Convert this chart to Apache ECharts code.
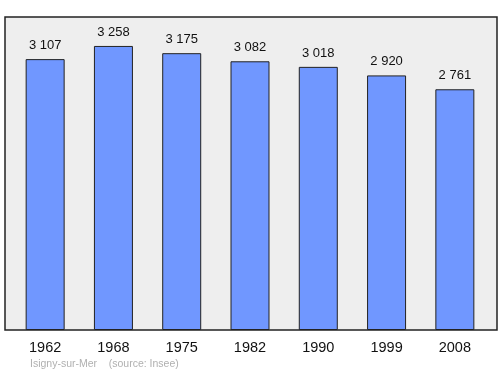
<!DOCTYPE html>
<html><head><meta charset="utf-8">
<script src="https://cdn.jsdelivr.net/npm/echarts@6/dist/echarts.min.js"></script>
<style>html,body{margin:0;padding:0;background:#fff}#c{width:500px;height:374px}</style>
</head><body><div id="c"></div>
<script>
const years = ['1962','1968','1975','1982','1990','1999','2008'];
const population = [3107, 3258, 3175, 3082, 3018, 2920, 2761];
const chart = echarts.init(document.getElementById('c'), null, {renderer:'canvas'});
const fmt = v => String(v).replace(/\B(?=(\d{3})+(?!\d))/g, ' ');
chart.setOption({
  animation:false,
  grid:[
    {left:5, right:3, top:17, bottom:44, show:true, backgroundColor:'#eeeeee', borderColor:'#222', borderWidth:1.5},
    {left:11, right:11, top:17, bottom:44}
  ],
  xAxis:[
    {gridIndex:0, type:'value', show:false, min:0, max:1},
    {gridIndex:1, type:'category', data:years, axisLine:{show:false}, axisTick:{show:false},
     axisLabel:{color:'#111', fontSize:14.5, fontFamily:'Liberation Sans', margin:10}}
  ],
  yAxis:[
    {gridIndex:0, type:'value', show:false, min:0, max:1},
    {gridIndex:1, type:'value', min:0, max:3590, show:false}
  ],
  series:[{
    type:'bar', xAxisIndex:1, yAxisIndex:1, data:population, barWidth:39,
    itemStyle:{color:'#7097ff', borderColor:'#222', borderWidth:1},
    label:{show:true, position:'top', distance:7, color:'#111', fontSize:13, fontFamily:'Liberation Sans', formatter:p=>fmt(p.value)}
  }],
  graphic:[{type:'text', left:30, top:359, style:{text:'Isigny-sur-Mer    (source: Insee)', fill:'#b0b0b0', font:'10.5px Liberation Sans'}}]
});
</script></body></html>
